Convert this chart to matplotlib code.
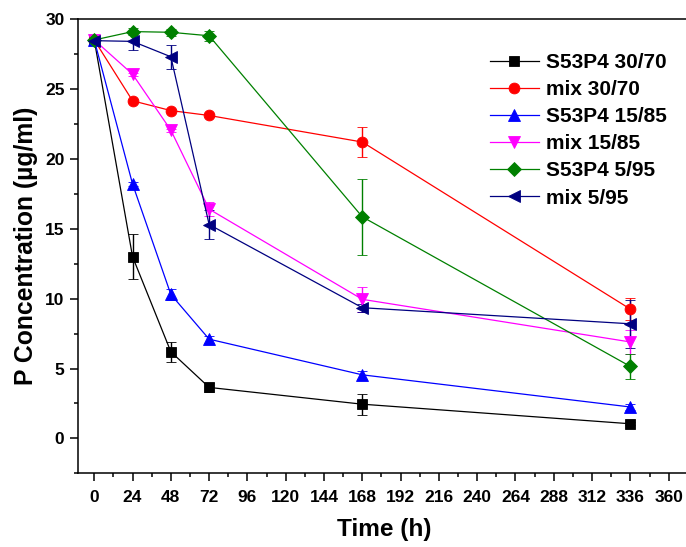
import matplotlib
matplotlib.use("Agg")
import matplotlib.pyplot as plt
from matplotlib.lines import Line2D
from matplotlib.ticker import MultipleLocator

plt.rcParams['font.family'] = ['Liberation Sans', 'DejaVu Sans']
plt.rcParams['font.weight'] = 'bold'

# Sampling times (h)
time_h = [0, 24, 48, 72, 168, 336]

# Phosphorus concentration (µg/ml) and standard deviations
s53p4_30_70 = [28.5, 13.0, 6.2, 3.65, 2.45, 1.05]
s53p4_30_70_err = [0.1, 1.6, 0.7, 0.35, 0.75, 0.1]

mix_30_70 = [28.5, 24.15, 23.45, 23.1, 21.2, 9.25]
mix_30_70_err = [0.1, 0.1, 0.1, 0.1, 1.05, 0.78]

s53p4_15_85 = [28.5, 18.2, 10.3, 7.1, 4.55, 2.25]
s53p4_15_85_err = [0.1, 0.15, 0.4, 0.25, 0.3, 0.2]

mix_15_85 = [28.5, 26.05, 22.05, 16.4, 9.95, 6.9]
mix_15_85_err = [0.1, 0.1, 0.1, 0.5, 0.9, 0.85]

s53p4_5_95 = [28.5, 29.1, 29.05, 28.8, 15.85, 5.15]
s53p4_5_95_err = [0.1, 0.25, 0.25, 0.35, 2.7, 0.88]

mix_5_95 = [28.45, 28.4, 27.3, 15.3, 9.35, 8.2]
mix_5_95_err = [0.1, 0.65, 0.85, 1.05, 0.3, 1.7]

series = [
    ("S53P4 30/70", s53p4_30_70, s53p4_30_70_err, "#000000", "s", 7.2),
    ("mix 30/70", mix_30_70, mix_30_70_err, "#ff0000", "o", 7.8),
    ("S53P4 15/85", s53p4_15_85, s53p4_15_85_err, "#0000ff", "^", 8.2),
    ("mix 15/85", mix_15_85, mix_15_85_err, "#ff00ff", "v", 8.2),
    ("S53P4 5/95", s53p4_5_95, s53p4_5_95_err, "#008000", "D", 7.6),
    ("mix 5/95", mix_5_95, mix_5_95_err, "#000080", "<", 8.2),
]

fig = plt.figure(figsize=(6.86, 5.47), dpi=100)
ax = fig.add_axes([78.3 / 686, 1 - 473.4 / 547, (691 - 78.3) / 686, (473.4 - 19) / 547])

handles = []
for label, y, err, color, marker, ms in series:
    ax.errorbar(time_h, y, yerr=err, color=color, marker=marker, markersize=ms,
                linewidth=0.9, elinewidth=1.0, capsize=3.8, capthick=1.0,
                markeredgewidth=0.6)
    handles.append(Line2D([], [], color=color, marker=marker, markersize=ms,
                          linewidth=0.9, markeredgewidth=0.6, label=label))

ax.set_xlim(-10, 374)
ax.set_ylim(-2.5, 30)
ax.xaxis.set_minor_locator(MultipleLocator(12))
ax.yaxis.set_minor_locator(MultipleLocator(2.5))
ax.set_xticks(list(range(0, 361, 24)))
ax.set_yticks(list(range(0, 31, 5)))

for side in ['left', 'bottom', 'top', 'right']:
    ax.spines[side].set_linewidth(1.1)

ax.tick_params(which='major', direction='out', length=6, width=1.1,
               labelsize=12.5, pad=4, top=False, right=False)
ax.tick_params(which='minor', direction='out', length=3, width=1.1,
               top=False, right=False)
ax.tick_params(axis='x', which='major', pad=6)
for lbl in ax.get_xticklabels() + ax.get_yticklabels():
    lbl.set_fontweight('bold')

ax.set_xlabel("Time (h)", fontsize=17.6, fontweight='bold', labelpad=9)
ax.set_ylabel("P Concentration (\u00b5g/ml)", fontsize=17.8, fontweight='bold', labelpad=5)

leg = ax.legend(handles=handles, loc='upper left',
                bbox_to_anchor=(490 / 686, 1 - 53 / 547),
                bbox_transform=fig.transFigure, frameon=False,
                prop={'size': 15, 'weight': 'bold'},
                handlelength=2.35, handletextpad=0.35, labelspacing=0.39,
                borderpad=0, borderaxespad=0)

fig.savefig("out.png", dpi=100)
